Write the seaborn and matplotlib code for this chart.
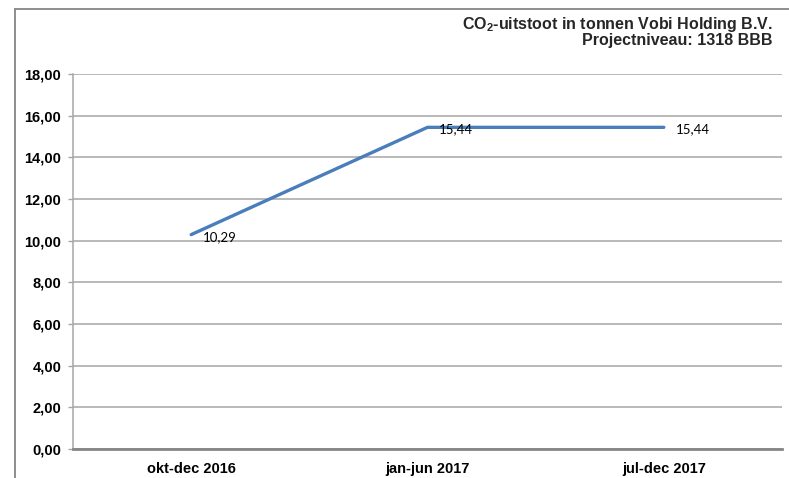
import matplotlib
matplotlib.use("Agg")
import matplotlib.pyplot as plt
from matplotlib.lines import Line2D
from matplotlib.ticker import FuncFormatter, MultipleLocator
import seaborn as sns
import pandas as pd

# chart data
periods = ["okt-dec 2016", "jan-jun 2017", "jul-dec 2017"]
emissions = [10.29, 15.44, 15.44]
title_lines = ["CO$_\\mathbf{2}$-uitstoot in tonnen Vobi Holding B.V.", "Projectniveau: 1318 BBB"]

sns.set_style("white")
plt.rcParams["font.family"] = ["Liberation Sans", "DejaVu Sans"]
plt.rcParams["mathtext.fontset"] = "custom"
plt.rcParams["mathtext.bf"] = "Liberation Sans:bold"
plt.rcParams["mathtext.rm"] = "Liberation Sans:bold"

df = pd.DataFrame({"period": periods, "co2": emissions})

fig = plt.figure(figsize=(7.89, 4.78), dpi=100)
ax = fig.add_axes([73 / 789, 1 - 449 / 478, (782 - 73) / 789, (449 - 74) / 478])

sns.lineplot(data=df, x="period", y="co2", ax=ax, color="#4A7EBB", linewidth=2.4, sort=False)

# data labels, placed just right of each point
for i, v in enumerate(emissions):
    ax.annotate(f"{v:.2f}".replace(".", ","), (i, v), xytext=(8.5, -1.5),
                textcoords="offset points", ha="left", va="center",
                fontsize=9.5, family="Lato", color="black")

ax.set_xlim(-0.5, 2.5)
ax.set_ylim(0, 18)
ax.yaxis.set_major_locator(MultipleLocator(2))
ax.yaxis.set_major_formatter(FuncFormatter(lambda v, p: f"{v:.2f}".replace(".", ",")))
ax.grid(axis="y", color="#A6A6A6", linewidth=1.1)
ax.set_axisbelow(True)
ax.set_xlabel("")
ax.set_ylabel("")

for s in ["top", "right"]:
    ax.spines[s].set_visible(False)
ax.spines["left"].set_color("#A6A6A6")
ax.spines["left"].set_linewidth(1.1)
ax.spines["bottom"].set_color("#868686")
ax.spines["bottom"].set_linewidth(2)

ax.tick_params(axis="y", left=True, length=3.5, width=1, color="#A6A6A6", pad=5,
               labelsize=10.5, labelcolor="black")
ax.tick_params(axis="x", bottom=False, pad=6, labelsize=10.5, labelcolor="black")
for lab in ax.get_yticklabels() + ax.get_xticklabels():
    lab.set_fontweight("bold")

# title, right aligned top corner
fig.text(773 / 789, 1 - 24 / 478, title_lines[0], ha="right", va="center",
         fontsize=11.5, fontweight="bold")
fig.text(773 / 789, 1 - 40 / 478, title_lines[1], ha="right", va="center",
         fontsize=11.5, fontweight="bold")

# outer chart border (cropped)
fig.add_artist(Line2D([15 / 789, 15 / 789], [0, 1 - 9 / 478], color="#868686", linewidth=1.3))
fig.add_artist(Line2D([15 / 789, 1], [1 - 9 / 478, 1 - 9 / 478], color="#868686", linewidth=1.3))

fig.savefig("out.png", dpi=100)
